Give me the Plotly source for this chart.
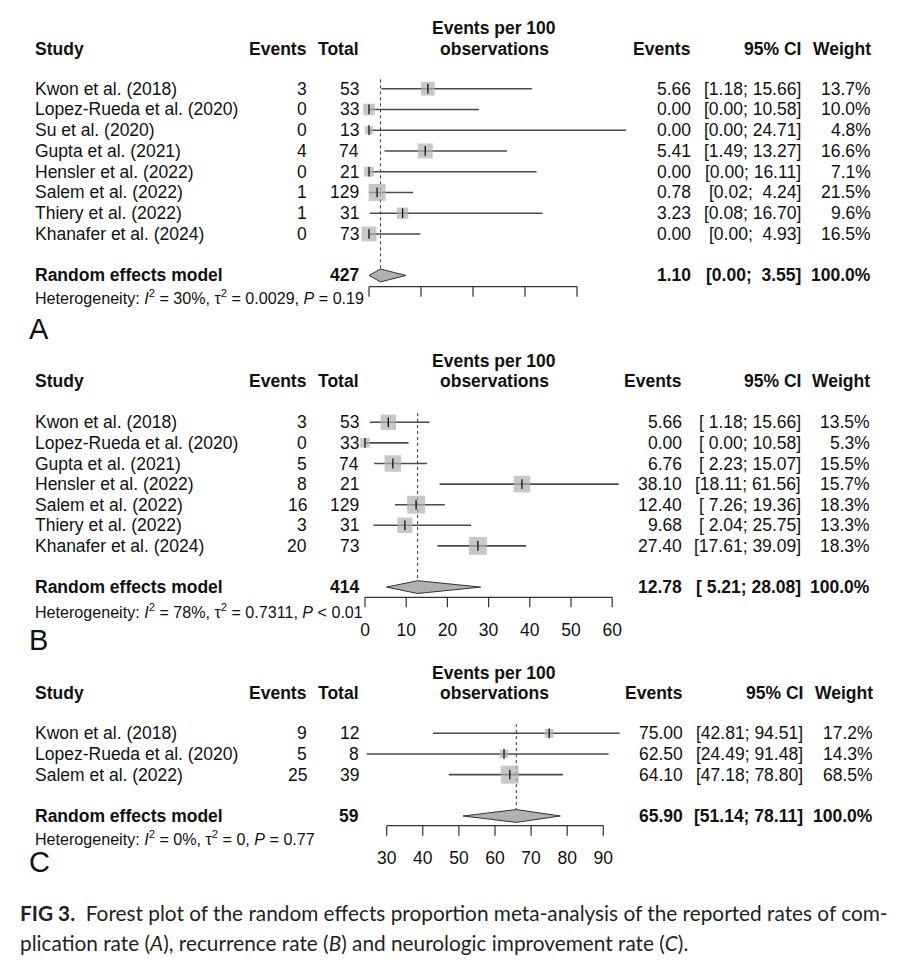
import math
import plotly.graph_objects as go

# ---------------- data ----------------
A_studies = ["Kwon et al. (2018)", "Lopez-Rueda et al. (2020)", "Su et al. (2020)", "Gupta et al. (2021)",
             "Hensler et al. (2022)", "Salem et al. (2022)", "Thiery et al. (2022)", "Khanafer et al. (2024)"]
A_events = [3, 0, 0, 4, 0, 1, 1, 0]
A_totals = [53, 33, 13, 74, 21, 129, 31, 73]
A_est = [5.66, 0.00, 0.00, 5.41, 0.00, 0.78, 3.23, 0.00]
A_lower = [1.18, 0.00, 0.00, 1.49, 0.00, 0.02, 0.08, 0.00]
A_upper = [15.66, 10.58, 24.71, 13.27, 16.11, 4.24, 16.70, 4.93]
A_weight = [13.7, 10.0, 4.8, 16.6, 7.1, 21.5, 9.6, 16.5]
A_pooled = [1.10, 0.00, 3.55]
A_total_n = 427
A_het = "Heterogeneity: <i>I</i><sup>2</sup> = 30%, τ<sup>2</sup> = 0.0029, <i>P</i> = 0.19"
A_ticks = [0, 5, 10, 15, 20]

B_studies = ["Kwon et al. (2018)", "Lopez-Rueda et al. (2020)", "Gupta et al. (2021)", "Hensler et al. (2022)",
             "Salem et al. (2022)", "Thiery et al. (2022)", "Khanafer et al. (2024)"]
B_events = [3, 0, 5, 8, 16, 3, 20]
B_totals = [53, 33, 74, 21, 129, 31, 73]
B_est = [5.66, 0.00, 6.76, 38.10, 12.40, 9.68, 27.40]
B_lower = [1.18, 0.00, 2.23, 18.11, 7.26, 2.04, 17.61]
B_upper = [15.66, 10.58, 15.07, 61.56, 19.36, 25.75, 39.09]
B_weight = [13.5, 5.3, 15.5, 15.7, 18.3, 13.3, 18.3]
B_pooled = [12.78, 5.21, 28.08]
B_total_n = 414
B_het = "Heterogeneity: <i>I</i><sup>2</sup> = 78%, τ<sup>2</sup> = 0.7311, <i>P</i> < 0.01"
B_ticks = [0, 10, 20, 30, 40, 50, 60]

C_studies = ["Kwon et al. (2018)", "Lopez-Rueda et al. (2020)", "Salem et al. (2022)"]
C_events = [9, 5, 25]
C_totals = [12, 8, 39]
C_est = [75.00, 62.50, 64.10]
C_lower = [42.81, 24.49, 47.18]
C_upper = [94.51, 91.48, 78.80]
C_weight = [17.2, 14.3, 68.5]
C_pooled = [65.90, 51.14, 78.11]
C_total_n = 59
C_het = "Heterogeneity: <i>I</i><sup>2</sup> = 0%, τ<sup>2</sup> = 0, <i>P</i> = 0.77"
C_ticks = [30, 40, 50, 60, 70, 80, 90]

CAPTION_1 = "<b>FIG 3.</b>\u00a0 Forest plot of the random effects proportion meta-analysis of the reported rates of com-"
CAPTION_2 = "plication rate (<i>A</i>), recurrence rate (<i>B</i>) and neurologic improvement rate (<i>C</i>)."

# ---------------- layout constants ----------------
PAGE_W, PAGE_H = 902, 974
BODY_MARGIN = 8                      # default page margin around the plot div
W, H = PAGE_W - 2 * BODY_MARGIN, PAGE_H - 2 * BODY_MARGIN
FONT = "Liberation Sans, Arial, Helvetica, sans-serif"
TXT = "#111111"
FS = 17.5
SQ_COL = "#b0b0b0"
LINE_COL = "#4a4a4a"
AX_COL = "#333333"
TICK_LEN = 10       # px
PANEL_PAD = 12      # px of panel below the axis line (room for the tick marks)

PANELS = [
    dict(label="A", first=88.7, dy=20.75, axis=286.7, v0=0, p0=369.0, unit=10.4, show_labels=False,
         data_px=(330, 650), hdr1=28, hdr2=49, het=297, lab=329, ev_r=692.5, ci_r=802.5, w_r=872.5, sq=3.67,
         studies=A_studies, events=A_events, totals=A_totals, est=A_est, lower=A_lower, upper=A_upper,
         weight=A_weight, pooled=A_pooled, total_n=A_total_n, het_text=A_het, ticks=A_ticks),
    dict(label="B", first=422.3, dy=20.6, axis=597.3, v0=0, p0=365.0, unit=4.12, show_labels=True,
         data_px=(330, 650), hdr1=361, hdr2=381, het=611, lab=640, ev_r=684, ci_r=802.5, w_r=871.5, sq=4.2,
         studies=B_studies, events=B_events, totals=B_totals, est=B_est, lower=B_lower, upper=B_upper,
         weight=B_weight, pooled=B_pooled, total_n=B_total_n, het_text=B_het, ticks=B_ticks),
    dict(label="C", first=733.3, dy=20.67, axis=825.7, v0=30, p0=386.7, unit=3.61, show_labels=True,
         data_px=(340, 650), hdr1=673, hdr2=693, het=838, lab=862, ev_r=685, ci_r=805, w_r=875, sq=2.17,
         studies=C_studies, events=C_events, totals=C_totals, est=C_est, lower=C_lower, upper=C_upper,
         weight=C_weight, pooled=C_pooled, total_n=C_total_n, het_text=C_het, ticks=C_ticks),
]

NBSP = "\u00a0"


def fx(px):
    return (px - BODY_MARGIN) / W


def fy(py):
    return 1 - (py - BODY_MARGIN) / H


annotations = []


def ann(text, x, y, xanchor="left", yref="paper", size=FS, bold=False, color=TXT, family=FONT):
    if bold:
        text = f"<b>{text}</b>"
    annotations.append(dict(text=text, x=x, y=y, xref="paper", yref=yref, xanchor=xanchor,
                            yanchor="middle", showarrow=False,
                            font=dict(size=size, color=color, family=family)))


def pad(s, width):
    return NBSP * (width - len(s)) + s


fig = go.Figure()
layout = {}

for i, P in enumerate(PANELS, start=1):
    sfx = "" if i == 1 else str(i)
    x_name, y_name = f"x{sfx}", f"y{sfx}"
    n = len(P["studies"])
    rows = list(range(1, n + 1))
    pooled_row = n + 2
    first, dy = P["first"], P["dy"]
    k_axis = 1 + (P["axis"] - first) / dy                 # row position of the axis line
    k_bottom = 1 + (P["axis"] + PANEL_PAD - first) / dy   # bottom edge of the panel
    k_tick = TICK_LEN / dy
    top_px = first - dy

    layout[f"yaxis{sfx}"] = dict(domain=[fy(P["axis"] + PANEL_PAD), fy(top_px)], range=[k_bottom, 0],
                                 visible=False, anchor=x_name, fixedrange=True)
    d0, d1 = P["data_px"]
    layout[f"xaxis{sfx}"] = dict(domain=[fx(d0), fx(d1)],
                                 range=[P["v0"] + (d0 - P["p0"]) / P["unit"],
                                        P["v0"] + (d1 - P["p0"]) / P["unit"]],
                                 anchor=y_name, showline=False, ticks="",
                                 tickvals=P["ticks"], ticktext=[str(t) for t in P["ticks"]],
                                 showticklabels=P["show_labels"], ticklabelstandoff=8,
                                 tickfont=dict(size=FS, color=TXT, family=FONT),
                                 showgrid=False, zeroline=False, fixedrange=True)

    est_p, lo_p, hi_p = P["pooled"]

    # axis: line across the tick range plus downward tick marks at the tick values
    ax_x = [P["ticks"][0], P["ticks"][-1], None]
    ax_y = [k_axis, k_axis, None]
    for t in P["ticks"]:
        ax_x += [t, t, None]
        ax_y += [k_axis, k_axis + k_tick, None]
    fig.add_trace(go.Scatter(x=ax_x, y=ax_y, xaxis=x_name, yaxis=y_name, mode="lines",
                             line=dict(color=AX_COL, width=1.2), hoverinfo="skip"))

    # reference dotted line
    fig.add_trace(go.Scatter(x=[est_p, est_p], y=[0.55, pooled_row - 0.31], xaxis=x_name, yaxis=y_name,
                             mode="lines", line=dict(color=AX_COL, width=1, dash="dot"),
                             hoverinfo="skip", cliponaxis=False))
    # CI lines
    cx, cy = [], []
    for r, lo, hi in zip(rows, P["lower"], P["upper"]):
        cx += [lo, hi, None]
        cy += [r, r, None]
    fig.add_trace(go.Scatter(x=cx, y=cy, xaxis=x_name, yaxis=y_name, mode="lines",
                             line=dict(color=LINE_COL, width=1.6), hoverinfo="skip", cliponaxis=False))
    # squares (area proportional to weight)
    fig.add_trace(go.Scatter(x=P["est"], y=rows, xaxis=x_name, yaxis=y_name, mode="markers",
                             marker=dict(symbol="square", color=SQ_COL,
                                         size=[P["sq"] * math.sqrt(w) for w in P["weight"]],
                                         line=dict(width=0)),
                             hoverinfo="skip", cliponaxis=False))
    # estimate tick
    fig.add_trace(go.Scatter(x=P["est"], y=rows, xaxis=x_name, yaxis=y_name, mode="markers",
                             marker=dict(symbol="line-ns", size=7, line=dict(width=1.3, color="#111111")),
                             hoverinfo="skip", cliponaxis=False))
    # pooled diamond
    h = 0.31
    fig.add_trace(go.Scatter(x=[lo_p, est_p, hi_p, est_p, lo_p],
                             y=[pooled_row, pooled_row - h, pooled_row, pooled_row + h, pooled_row],
                             xaxis=x_name, yaxis=y_name, mode="lines", fill="toself", fillcolor=SQ_COL,
                             line=dict(color=AX_COL, width=1), hoverinfo="skip", cliponaxis=False))

    # headers
    ann("Events per 100", fx(494), fy(P["hdr1"]), xanchor="center", bold=True)
    ann("observations", fx(494), fy(P["hdr2"]), xanchor="center", bold=True)
    ann("Study", fx(33), fy(P["hdr2"]), bold=True)
    ann("Events", fx(308.5), fy(P["hdr2"]), xanchor="right", bold=True)
    ann("Total", fx(360.5), fy(P["hdr2"]), xanchor="right", bold=True)
    ann("Events", fx(P["ev_r"]), fy(P["hdr2"]), xanchor="right", bold=True)
    ann("95% CI", fx(P["ci_r"]), fy(P["hdr2"]), xanchor="right", bold=True)
    ann("Weight", fx(P["w_r"]), fy(P["hdr2"]), xanchor="right", bold=True)

    lo_w = max(len(f"{v:.2f}") for v in P["lower"] + [lo_p])
    hi_w = max(len(f"{v:.2f}") for v in P["upper"] + [hi_p])

    def ci_text(lo, hi):
        return f"[{pad(f'{lo:.2f}', lo_w)}; {pad(f'{hi:.2f}', hi_w)}]"

    for r, s, e, t, es, lo, hi, w in zip(rows, P["studies"], P["events"], P["totals"], P["est"],
                                         P["lower"], P["upper"], P["weight"]):
        ann(s, fx(33), r, yref=y_name)
        ann(str(e), fx(308.5), r, xanchor="right", yref=y_name)
        ann(str(t), fx(360.5), r, xanchor="right", yref=y_name)
        ann(f"{es:.2f}", fx(P["ev_r"]), r, xanchor="right", yref=y_name)
        ann(ci_text(lo, hi), fx(P["ci_r"]), r, xanchor="right", yref=y_name)
        ann(f"{w:.1f}%", fx(P["w_r"]), r, xanchor="right", yref=y_name)

    ann("Random effects model", fx(33), pooled_row, yref=y_name, bold=True)
    ann(str(P["total_n"]), fx(360.5), pooled_row, xanchor="right", yref=y_name, bold=True)
    ann(f"{est_p:.2f}", fx(P["ev_r"]), pooled_row, xanchor="right", yref=y_name, bold=True)
    ann(ci_text(lo_p, hi_p), fx(P["ci_r"]), pooled_row, xanchor="right", yref=y_name, bold=True)
    ann("100.0%", fx(P["w_r"]), pooled_row, xanchor="right", yref=y_name, bold=True)
    ann(P["het_text"], fx(33), fy(P["het"]), size=16.1)
    ann(P["label"], fx(27), fy(P["lab"]), size=29)

# caption
CAP_FONT = "Lato, Open Sans, sans-serif"
ann(CAPTION_1, fx(18), fy(912), size=20.8, color="#231f20", family=CAP_FONT)
ann(CAPTION_2, fx(18), fy(942), size=20.8, color="#231f20", family=CAP_FONT)

fig.update_layout(width=W, height=H, margin=dict(l=0, r=0, t=0, b=0, autoexpand=False), paper_bgcolor="white",
                  plot_bgcolor="rgba(0,0,0,0)", showlegend=False, annotations=annotations, **layout)
fig.write_html("out.html")
